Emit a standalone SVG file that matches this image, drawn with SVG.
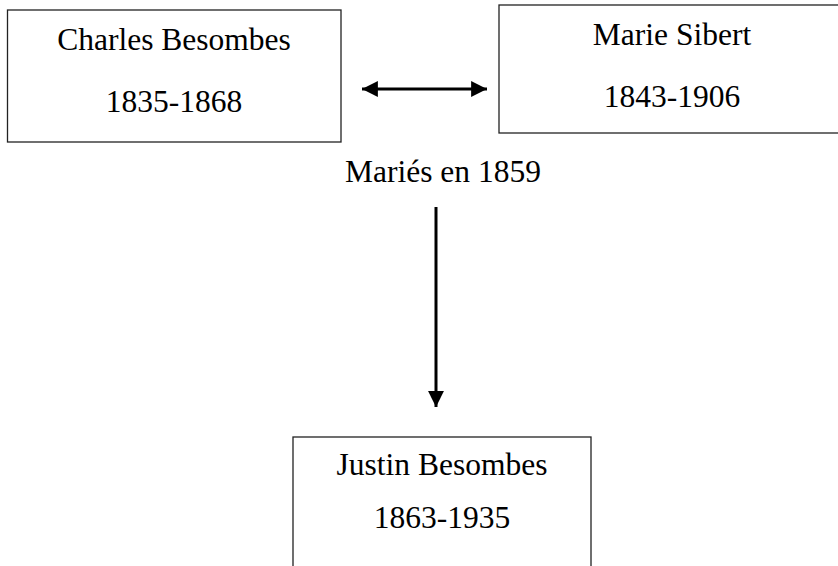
<svg xmlns="http://www.w3.org/2000/svg" width="838" height="566" viewBox="0 0 838 566">
<style>
.box{fill:#fff;stroke:#222;stroke-width:1.3}
.t{font-family:"Liberation Serif","Times New Roman",serif;font-size:31.5px;fill:#000;text-anchor:middle}
.c{stroke:#000;stroke-width:3;fill:none}
</style>
<defs>
<marker id="ah" viewBox="0 0 10 10" refX="10" refY="5" markerWidth="5.3" markerHeight="5.3" orient="auto-start-reverse" markerUnits="strokeWidth">
<path d="M0,0 L10,5 L0,10 Z" fill="#000"/>
</marker>
</defs>
<rect width="838" height="566" fill="#fff"/>
<g id="charles">
<rect class="box" x="7.5" y="10" width="333.5" height="132"/>
<text class="t" x="174" y="50">Charles Besombes</text>
<text class="t" x="174" y="112">1835-1868</text>
</g>
<g id="marie">
<rect class="box" x="499" y="5" width="360" height="128"/>
<text class="t" x="672" y="45">Marie Sibert</text>
<text class="t" x="672" y="107">1843-1906</text>
</g>
<g id="maries">
<text class="t" x="443" y="182">Mariés en 1859</text>
</g>
<g id="justin">
<rect class="box" x="293" y="437" width="298" height="140"/>
<text class="t" x="442" y="475">Justin Besombes</text>
<text class="t" x="442" y="528">1863-1935</text>
</g>
<g id="connectors">
<line class="c" x1="362" y1="89" x2="487" y2="89" marker-start="url(#ah)" marker-end="url(#ah)"/>
<line class="c" x1="436" y1="207" x2="436" y2="407" marker-end="url(#ah)"/>
</g>
</svg>
